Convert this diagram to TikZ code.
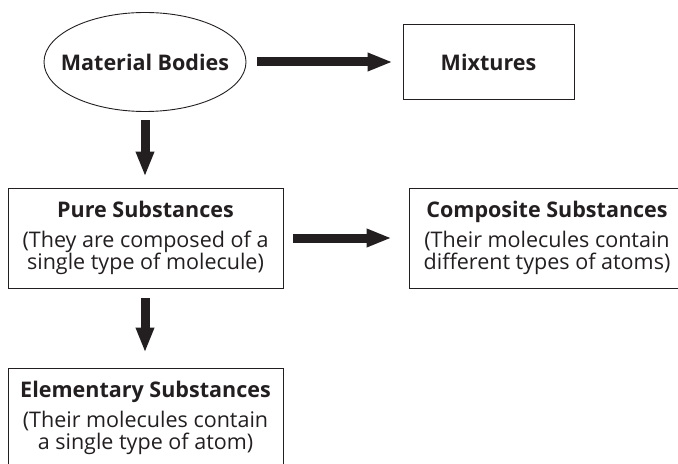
\documentclass[tikz,border=0pt]{standalone}
\usepackage{fontspec}
\setmainfont{Open Sans}
\usetikzlibrary{positioning,shapes.geometric,arrows.meta}
\definecolor{ink}{HTML}{231F20}
\tikzset{>=latex}
\tikzset{
  box/.style={draw=ink, line width=0.9bp, rectangle, minimum width=275bp, minimum height=100bp, align=center, inner sep=0pt},
  fat/.style={line width=9bp, draw=ink, -{Triangle[length=25bp,width=17bp]}}
}

\begin{document}
\begin{tikzpicture}[x=1bp, y=-1bp, font=\fontsize{21.6}{22.7}\selectfont, text=ink]
      \clip (0,0) rectangle (678,464);
      \node[draw=ink, line width=0.9bp, ellipse, minimum width=202bp, minimum height=99bp, inner xsep=-40bp, inner ysep=0pt] (n0) at (145,62) {\bfseries Material Bodies};
      \node[box, right of=n0, node distance=343.5bp, minimum width=171bp, minimum height=75bp] (n1) {\bfseries Mixtures};
      \node[box, below of=n0, node distance=176bp, xshift=0.5bp] (n2) {{\bfseries Pure Substances}\\[7bp](They are composed of a\\single type of molecule)};
      \node[box, right of=n2, node distance=401.5bp, minimum width=276bp] (n3) {{\bfseries Composite Substances}\\[7bp](Their molecules contain\\different types of atoms)};
      \node[box, below of=n2, node distance=180bp] (n4) {{\bfseries Elementary Substances}\\[7bp](Their molecules contain\\a single type of atom)};
      \draw[fat, shorten <=11bp, shorten >=10bp] (n0.east) -- (n1.west);
      \draw[fat, shorten <=8.5bp, shorten >=11bp] (n0.south) -- (n2.north -| n0.south);
      \draw[fat, shorten <=10bp, shorten >=17bp] (n2.east) -- (n3.west);
      \draw[fat, shorten <=10bp, shorten >=15bp] (n2.south -| n0.south) -- (n4.north -| n0.south);
    \end{tikzpicture}
\end{document}
